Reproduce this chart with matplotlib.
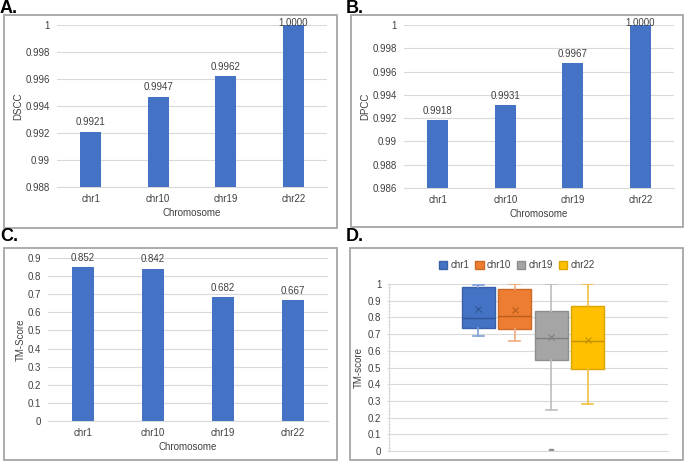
import matplotlib
matplotlib.use("Agg")
import matplotlib.pyplot as plt
from matplotlib.patches import Rectangle, Patch
from matplotlib.ticker import MultipleLocator, FuncFormatter

plt.rcParams['font.family'] = ['Liberation Sans', 'DejaVu Sans']

# ---------------- data ----------------
chromosomes = ["chr1", "chr10", "chr19", "chr22"]
dscc = [0.9921, 0.9947, 0.9962, 1.0000]
dpcc = [0.9918, 0.9931, 0.9967, 1.0000]
tm_score = [0.852, 0.842, 0.682, 0.667]

# box plot summaries (panel D)
box_whislo = [0.689, 0.659, 0.248, 0.279]
box_q1 = [0.735, 0.729, 0.545, 0.489]
box_med = [0.796, 0.810, 0.675, 0.661]
box_q3 = [0.980, 0.970, 0.840, 0.870]
box_whishi = [0.992, 1.000, 1.000, 1.000]
box_mean = [0.852, 0.842, 0.682, 0.667]
box_outliers = [[], [], [0.0], []]

# ---------------- style ----------------
W, H = 685, 462
BAR = "#4472C4"
BOX_FACE = ["#4472C4", "#ED7D31", "#A5A5A5", "#FFC000"]
BOX_EDGE = ["#3A62A8", "#CC6A28", "#8E8E8E", "#DBA500"]
BOX_WHISK = ["#7F9FD8", "#F2AA80", "#BDBDBD", "#F0C040"]
BOX_MED = ["#2F5597", "#B85E20", "#7F7F7F", "#C09000"]
GRID = "#D9D9D9"
TXT = "#404040"
FRAME = "#A6A6A6"

fig = plt.figure(figsize=(W / 100, H / 100), dpi=100)
fig.patch.set_facecolor("white")


def px_axes(x0, x1, y0, y1):
    return fig.add_axes([x0 / W, 1 - y1 / H, (x1 - x0) / W, (y1 - y0) / H])


def frame(x0, x1, y0, y1):
    fig.patches.append(Rectangle((x0 / W, 1 - y1 / H), (x1 - x0) / W, (y1 - y0) / H,
                                 transform=fig.transFigure, fill=False,
                                 edgecolor=FRAME, linewidth=1.3, zorder=0))


def panel_label(x, y, s):
    fig.text(x / W, 1 - y / H, s, fontsize=13, fontweight="bold", color="black",
             va="top", ha="left")


def bar_panel(ax, values, ylim, step, ylabel, fmt, ytick_fmt):
    xs = list(range(len(values)))
    ax.bar(xs, [v - ylim[0] for v in values], bottom=ylim[0], width=0.31,
           color=BAR, zorder=3)
    ax.set_xlim(-0.5, len(values) - 0.5)
    ax.set_ylim(*ylim)
    ax.yaxis.set_major_locator(MultipleLocator(step))
    ax.yaxis.set_major_formatter(FuncFormatter(ytick_fmt))
    ax.grid(axis="y", color=GRID, linewidth=0.8, zorder=0)
    ax.set_axisbelow(True)
    for s in ["top", "right", "left"]:
        ax.spines[s].set_visible(False)
    ax.spines["bottom"].set_color(GRID)
    ax.spines["bottom"].set_linewidth(0.8)
    ax.set_xticks(xs)
    ax.set_xticklabels(chromosomes)
    ax.tick_params(axis="both", length=0, labelsize=7, colors=TXT)
    ax.tick_params(axis="y", pad=5)
    ax.tick_params(axis="x", pad=5)
    ax.set_xlabel("Chromosome", fontsize=7, color=TXT, labelpad=3)
    ax.set_ylabel(ylabel, fontsize=7, color=TXT, labelpad=1.5)
    top = ylim[1]
    for x, v in zip(xs, values):
        if v >= top - 1e-9:
            ax.annotate(fmt.format(v), (x, v), xytext=(0, -2.5), textcoords="offset points",
                        ha="center", va="bottom", fontsize=7, color=TXT,
                        annotation_clip=False, zorder=5)
        else:
            ax.annotate(fmt.format(v), (x, v), xytext=(0, 3), textcoords="offset points",
                        ha="center", va="bottom", fontsize=7, color=TXT, zorder=5)


def gfmt(v, pos):
    s = "{:.3f}".format(v).rstrip("0").rstrip(".")
    return s


def gfmt1(v, pos):
    s = "{:.1f}".format(v).rstrip("0").rstrip(".")
    return s


# Panel A
frame(4, 337, 15, 228)
panel_label(0, 0, "A.")
axA = px_axes(57, 327, 25, 187)
bar_panel(axA, dscc, (0.988, 1.0), 0.002, "DSCC", "{:.4f}", gfmt)

# Panel B
frame(351, 683, 15, 227)
panel_label(346, 0, "B.")
axB = px_axes(404, 674, 25, 188)
bar_panel(axB, dpcc, (0.986, 1.0), 0.002, "DPCC", "{:.4f}", gfmt)

# Panel C
frame(4, 337, 248, 460)
panel_label(0, 228, "C.")
axC = px_axes(48, 328, 258, 421)
bar_panel(axC, tm_score, (0.0, 0.9), 0.1, "TM-Score", "{:.3f}", gfmt1)

# Panel D
frame(350, 683, 248, 460)
panel_label(346, 228, "D.")
axD = px_axes(389, 668, 284, 451)
stats = []
for i, c in enumerate(chromosomes):
    stats.append(dict(label=c, whislo=box_whislo[i], q1=box_q1[i], med=box_med[i],
                      q3=box_q3[i], whishi=box_whishi[i], mean=box_mean[i],
                      fliers=box_outliers[i]))
positions = [0.516 + (i - 1.5) * 0.131 for i in range(len(chromosomes))]
for i, st in enumerate(stats):
    axD.bxp([st], positions=[positions[i]], widths=0.118, patch_artist=True,
            showmeans=True, showfliers=True,
            boxprops=dict(facecolor=BOX_FACE[i], edgecolor=BOX_EDGE[i], linewidth=1.0),
            whiskerprops=dict(color=BOX_WHISK[i], linewidth=1.2),
            capprops=dict(color=BOX_WHISK[i], linewidth=1.2),
            capwidths=0.04,
            medianprops=dict(color=BOX_MED[i], linewidth=1.0),
            meanprops=dict(marker="x", markeredgecolor=BOX_MED[i], markersize=5,
                           markeredgewidth=0.8),
            flierprops=dict(marker="s", markersize=2.5, markerfacecolor="#8E8E8E",
                            markeredgecolor="#8E8E8E"),
            manage_ticks=False)
axD.set_xlim(0, 1)
axD.set_ylim(0, 1)
axD.yaxis.set_major_locator(MultipleLocator(0.1))
axD.yaxis.set_minor_locator(MultipleLocator(0.02))
axD.yaxis.set_major_formatter(FuncFormatter(gfmt1))
axD.grid(axis="y", which="major", color=GRID, linewidth=0.8, zorder=0)
axD.set_axisbelow(True)
for s in ["top", "right"]:
    axD.spines[s].set_visible(False)
axD.spines["left"].set_color(GRID)
axD.spines["left"].set_linewidth(0.8)
axD.spines["bottom"].set_color(GRID)
axD.spines["bottom"].set_linewidth(0.8)
axD.set_xticks([])
axD.tick_params(axis="y", which="major", length=3, direction="inout", color=GRID,
                labelsize=7, colors=TXT, pad=4)
axD.tick_params(axis="y", which="minor", length=2, direction="inout", color=GRID)
axD.tick_params(axis="y", which="both", color=GRID)
axD.set_ylabel("TM-score", fontsize=7, color=TXT, labelpad=3)

handles = [Patch(facecolor=BOX_FACE[i], edgecolor=BOX_EDGE[i], label=c)
           for i, c in enumerate(chromosomes)]
fig.legend(handles=handles, loc="center", bbox_to_anchor=(516.5 / W, 1 - 265 / H),
           ncol=4, frameon=False, fontsize=7, handlelength=0.9, handleheight=0.9,
           handletextpad=0.3, columnspacing=0.6, labelcolor=TXT)

fig.savefig("out.png", dpi=100, facecolor="white")
